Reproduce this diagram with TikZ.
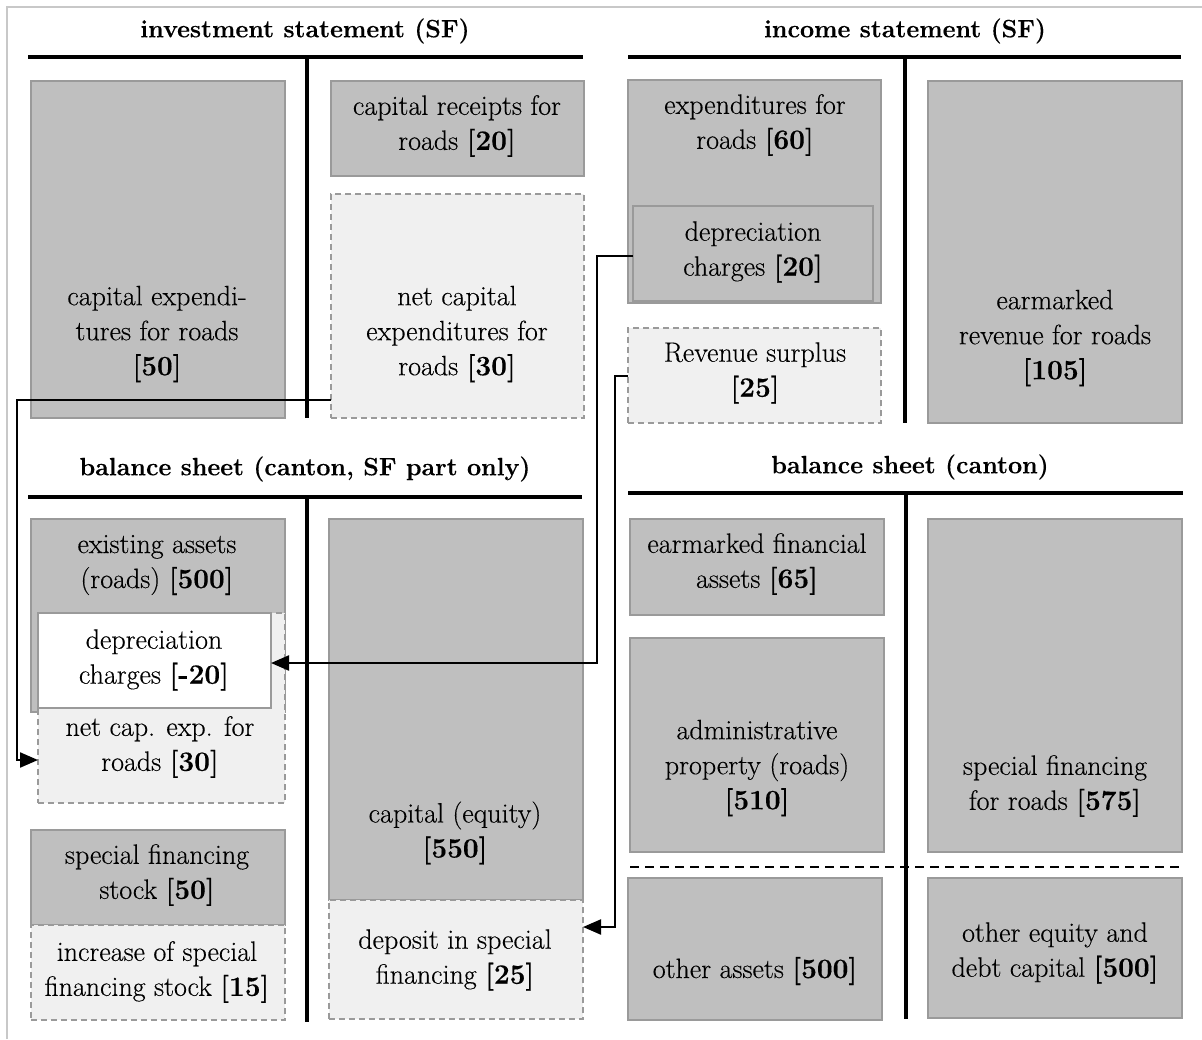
\documentclass[tikz,border=0pt]{standalone}
\usepackage{fontspec}
\setmainfont{Latin Modern Roman}[FakeBold=0.3]
\usetikzlibrary{arrows.meta}

\definecolor{boxfill}{HTML}{BFBFBF}
\definecolor{boxline}{HTML}{9A9A9A}
\definecolor{lightfill}{HTML}{F0F0F0}
\definecolor{framegrey}{HTML}{C8C8C8}

% a box given by its top-left and bottom-right corners
\newcommand\boxat[6]{%
  \node[#2, minimum width={#5-#3}, minimum height={#6-#4}] (#1) at (#3,#4) {};}

\begin{document}
\begin{tikzpicture}[x=1pt, y=-1pt,
  base/.style={inner sep=0pt, outer sep=0pt, anchor=north west, line width=1.3pt},
  solidbox/.style={base, draw=boxline, fill=boxfill},
  dashbox/.style={base, draw=boxline, fill=lightfill, dash pattern=on 6pt off 4pt},
  whitebox/.style={base, draw=boxline, fill=white},
  lbl/.style={font=\fontsize{28}{35}\selectfont, align=center, inner sep=0pt},
  ttl/.style={font=\fontsize{25}{30}\selectfont\bfseries, inner sep=0pt},
  tline/.style={line width=3.5pt},
  conn/.style={line width=2.2pt},
  arr/.style={conn, -{Triangle[length=18pt,width=15pt]}}
]
\useasboundingbox (0,0) rectangle (1202,1039);

% frame
\draw[framegrey, line width=1.5pt] (7,1039) -- (7,7) -- (1202,7);

% ---------- investment statement ----------
\node[ttl] (ttlInv) at (305,31) {investment statement (SF)};
\draw[tline] (28,57) -- (583,57);
\draw[tline] (307,57) -- (307,418);
\boxat{capexp}{solidbox}{31}{81}{285}{418}
\boxat{caprec}{solidbox}{331}{81}{584}{176}
\boxat{netcap}{dashbox}{331}{194}{584}{418}
\node[lbl] (tCapexp) at (157,334) {capital expendi-\\tures for roads\\\textbf{[50]}};
\node[lbl] (tCaprec) at (457,126) {capital receipts for\\roads \textbf{[20]}};
\node[lbl] (tNetcap) at (457,334) {net capital\\expenditures for\\roads \textbf{[30]}};

% ---------- income statement ----------
\node[ttl] (ttlInc) at (905,31) {income statement (SF)};
\draw[tline] (628,57) -- (1181,57);
\draw[tline] (905,57) -- (905,423);
\boxat{expend}{solidbox}{628}{80}{881}{303}
\boxat{depr}{solidbox}{633}{206}{873}{301}
\boxat{surplus}{dashbox}{628}{328}{881}{423}
\boxat{earmrev}{solidbox}{928}{81}{1182}{423}
\node[lbl] (tExpend) at (755,125) {expenditures for\\roads \textbf{[60]}};
\node[lbl] (tDepr) at (753,252) {depreciation\\charges \textbf{[20]}};
\node[lbl] (tSurplus) at (755,373) {Revenue surplus\\\textbf{[25]}};
\node[lbl] (tEarmrev) at (1055,338) {earmarked\\revenue for roads\\\textbf{[105]}};

% ---------- balance sheet, SF part ----------
\node[ttl] (ttlBalSF) at (305,469) {balance sheet (canton, SF part only)};
\draw[tline] (28,497) -- (582,497);
\draw[tline] (307,497) -- (307,1022);
\boxat{exist}{solidbox}{31}{519}{285}{712}
\boxat{netcapB}{dashbox}{38}{613}{285}{803}
\boxat{deprB}{whitebox}{38}{613}{271}{708}
\boxat{sfstock}{solidbox}{31}{830}{285}{925}
\boxat{incr}{dashbox}{31}{925}{285}{1020}
\boxat{equity}{solidbox}{329}{519}{583}{900}
\boxat{deposit}{dashbox}{329}{900}{583}{1019}
\node[lbl] (tExist) at (157,565) {existing assets\\(roads) \textbf{[500]}};
\node[lbl] (tDeprB) at (154,660) {depreciation\\charges \textbf{[-20]}};
\node[lbl] (tNetcapB) at (160,747) {net cap. exp. for\\roads \textbf{[30]}};
\node[lbl] (tSfstock) at (157,875) {special financing\\stock \textbf{[50]}};
\node[lbl] (tIncr) at (157,972) {increase of special\\financing stock \textbf{[15]}};
\node[lbl] (tEquity) at (455,833) {capital (equity)\\\textbf{[550]}};
\node[lbl] (tDeposit) at (455,960) {deposit in special\\financing \textbf{[25]}};

% ---------- balance sheet, canton ----------
\node[ttl] (ttlBal) at (910,467) {balance sheet (canton)};
\draw[tline] (628,493) -- (1183,493);
\draw[tline] (906,493) -- (906,1019);
\boxat{earmfin}{solidbox}{630}{519}{884}{615}
\boxat{admin}{solidbox}{630}{638}{884}{852}
\boxat{sfroads}{solidbox}{928}{519}{1182}{852}
\boxat{otherass}{solidbox}{628}{878}{882}{1020}
\boxat{otheq}{solidbox}{928}{878}{1182}{1018}
\draw[line width=2pt, dash pattern=on 9pt off 6pt] (630,867) -- (1183,867);
\node[lbl] (tEarmfin) at (757,564) {earmarked financial\\assets \textbf{[65]}};
\node[lbl] (tAdmin) at (757,768) {administrative\\property (roads)\\\textbf{[510]}};
\node[lbl] (tSfroads) at (1055,786) {special financing\\for roads \textbf{[575]}};
\node[lbl] (tOtherass) at (755,971) {other assets \textbf{[500]}};
\node[lbl] (tOtheq) at (1055,953) {other equity and\\debt capital \textbf{[500]}};

% ---------- connectors ----------
\coordinate (a1) at (17,400);
\coordinate (a2) at (17,760);
\draw[arr] (netcap.west |- a1) -- (a1) -- (a2) -- (netcapB.west |- a2);

\coordinate (b1) at (597,256);
\coordinate (b2) at (597,663);
\draw[arr] (depr.west |- b1) -- (b1) -- (b2) -- (deprB.east |- b2);

\coordinate (c1) at (615,376);
\coordinate (c2) at (615,927);
\draw[arr] (surplus.west |- c1) -- (c1) -- (c2) -- (deposit.east |- c2);
\end{tikzpicture}
\end{document}
